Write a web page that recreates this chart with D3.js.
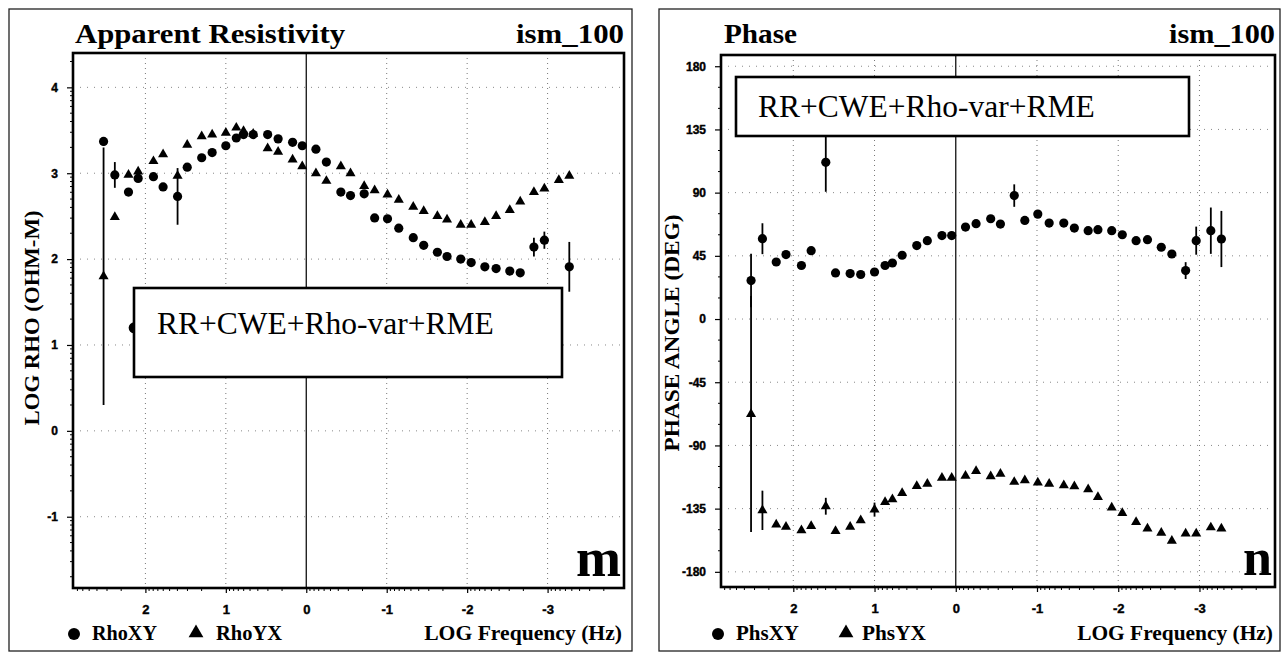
<!DOCTYPE html>
<html>
<head>
<meta charset="utf-8">
<script src="https://cdn.jsdelivr.net/npm/d3@7"></script>
<style>
  body { margin: 0; background: #fff; }
  svg { display: block; }
</style>
</head>
<body>
<div id="chart"></div>
<script>
// log10 frequency of each sounding (Hz), shared by both panels
var freq = [2.52, 2.38, 2.21, 2.09, 1.90, 1.78, 1.60, 1.48, 1.30, 1.17,
            1.00, 0.87, 0.78, 0.66, 0.48, 0.35, 0.17, 0.05, -0.12, -0.25,
            -0.43, -0.55, -0.72, -0.85, -1.01, -1.15, -1.33, -1.46, -1.63, -1.75,
            -1.92, -2.05, -2.22, -2.36, -2.53, -2.66, -2.83, -2.96, -3.14, -3.27];

// apparent resistivity, log10 ohm-m
var rhoXY = [3.37, 2.98, 2.78, 2.94, 2.96, 2.84, 2.73, 3.07, 3.18, 3.24,
             3.32, 3.41, 3.45, 3.45, 3.45, 3.40, 3.36, 3.32, 3.28, 3.13,
             2.78, 2.74, 2.76, 2.48, 2.47, 2.36, 2.25, 2.16, 2.08, 2.03,
             2.00, 1.96, 1.91, 1.89, 1.86, 1.84, 2.14, 2.22, null, 1.91];
var rhoXYErr = [0.05, 0.15, 0, 0, 0, 0, 0.33, 0, 0, 0,
                0, 0, 0, 0, 0, 0, 0, 0, 0, 0,
                0, 0, 0, 0, 0, 0, 0, 0, 0, 0,
                0, 0, 0, 0, 0, 0, 0.11, 0.10, 0, 0.29];
var rhoYX = [1.80, 2.49, 2.98, 3.02, 3.14, 3.22, 2.97, 3.33, 3.43, 3.45,
             3.47, 3.53, 3.49, 3.46, 3.29, 3.25, 3.16, 3.08, 3.00, 2.91,
             3.08, 3.00, 2.85, 2.80, 2.75, 2.69, 2.61, 2.56, 2.50, 2.46,
             2.40, 2.40, 2.43, 2.50, 2.57, 2.67, 2.78, 2.82, 2.92, 2.97];
var rhoYXErr = [1.5, 0, 0, 0, 0, 0, 0, 0, 0, 0,
                0, 0, 0, 0, 0, 0, 0, 0, 0, 0,
                0, 0, 0, 0, 0, 0, 0, 0, 0, 0,
                0, 0, 0, 0, 0, 0, 0, 0, 0, 0];
// one stray RhoXY estimate half hidden behind the label box
var rhoXYStrayFreq = [2.14];
var rhoXYStray = [1.2];

// phase, degrees
var phsXY = [27.4, 57.2, 40.6, 45.9, 38.1, 48.7, 111.6, 32.8, 32.4, 31.7,
             33.5, 38.1, 39.9, 45.4, 52.3, 55.8, 59.4, 59.4, 65.5, 67.9,
             71.4, 67.6, 87.9, 70.2, 74.7, 68.3, 68.3, 64.8, 62.9, 63.6,
             62.9, 60.0, 55.8, 56.5, 51.1, 46.3, 34.5, 55.8, 62.9, 57.0];
var phsXYErr = [19, 11, 0, 0, 0, 0, 21, 0, 0, 0,
                0, 0, 0, 0, 0, 0, 0, 0, 0, 0,
                0, 0, 8, 0, 0, 0, 0, 0, 0, 0,
                0, 0, 0, 0, 0, 0, 6, 10, 16.5, 20];
var phsYX = [-67.6, -136.2, -146.3, -148.0, -150.4, -147.5, -133.3, -151.0, -148.0, -143.3,
             -135.7, -130.3, -128.4, -123.9, -118.9, -117.3, -113.0, -113.0, -111.6, -108.3,
             -112.0, -110.2, -116.0, -114.9, -116.5, -117.3, -118.4, -119.1, -121.3, -126.7,
             -134.3, -138.1, -144.5, -149.2, -152.3, -157.9, -152.7, -152.7, -148.4, -149.2];
var phsYXErr = [84, 14, 0, 0, 0, 0, 6, 0, 0, 0,
                5, 0, 0, 0, 0, 0, 0, 0, 0, 0,
                0, 0, 0, 0, 0, 0, 0, 0, 0, 0,
                0, 0, 0, 0, 0, 0, 0, 0, 0, 0];

var freqTicks = [2, 1, 0, -1, -2, -3];
var rhoTicks = [-1, 0, 1, 2, 3, 4];
var phsTicks = [-180, -135, -90, -45, 0, 45, 90, 135, 180];
var boxLabel = "RR+CWE+Rho-var+RME";
var siteName = "ism_100";
var xTitle = "LOG Frequency (Hz)";

function pts(f, v, e) {
  var out = [];
  for (var i = 0; i < f.length; i++) {
    if (v[i] == null) continue;
    out.push({ f: f[i], v: v[i], e: e ? e[i] : 0 });
  }
  return out;
}

var logMinor = [];
for (var d = -5; d <= 4; d++) {
  for (var k = 2; k <= 9; k++) logMinor.push(d + Math.log10(k));
}
var phsMinor = d3.range(-180, 181, 15).filter(function (v) { return v % 45 !== 0; });

var panels = [
  {
    border: [9, 9, 632, 651],
    frame: [73, 53, 624, 588],
    xDomain: [2.9, -3.95],
    yDomain: [-1.83, 4.40],
    yTicks: rhoTicks,
    yMinor: logMinor,
    title: "Apparent Resistivity", titleX: 75, titleW: 270,
    siteW: 108,
    yLabel: "LOG RHO (OHM-M)", yLabelX: 32, yLabelY: 318, yLabelW: 215,
    box: [134, 288, 562, 377], boxTextX: 157, boxTextY: 334,
    letter: "m", letterSize: 54,
    series: [
      { data: pts(freq, rhoXY, rhoXYErr), shape: "circle", name: "RhoXY" },
      { data: pts(freq, rhoYX, rhoYXErr), shape: "triangle", name: "RhoYX" }
    ],
    stray: pts(rhoXYStrayFreq, rhoXYStray),
    legend: [74, 92, 196, 216], legendW: [65, 66], xTitleW: 198
  },
  {
    border: [659, 9, 1280, 651],
    frame: [721, 55, 1275, 587],
    xDomain: [2.89, -3.93],
    yDomain: [-190.8, 188],
    yTicks: phsTicks,
    yMinor: phsMinor,
    title: "Phase", titleX: 724, titleW: 73,
    siteW: 106,
    yLabel: "PHASE ANGLE (DEG)", yLabelX: 672, yLabelY: 333, yLabelW: 237,
    box: [736, 77, 1189, 136], boxTextX: 758, boxTextY: 117,
    letter: "n", letterSize: 52,
    series: [
      { data: pts(freq, phsXY, phsXYErr), shape: "circle", name: "PhsXY" },
      { data: pts(freq, phsYX, phsYXErr), shape: "triangle", name: "PhsYX" }
    ],
    stray: [],
    legend: [718, 736, 846, 862], legendW: [63, 64], xTitleW: 196
  }
];

var svg = d3.select("#chart").append("svg")
  .attr("width", 1285)
  .attr("height", 654);

function fitText(t, width) {
  var w = t.node().getComputedTextLength();
  var fs = parseFloat(t.attr("font-size"));
  if (w > 0) t.attr("font-size", fs * width / w);
  return t;
}

var tri = d3.symbol().type(d3.symbolTriangle).size(44);
var triBig = d3.symbol().type(d3.symbolTriangle).size(95);
var serif = "'Liberation Serif', 'Times New Roman', serif";
var sans = "'Liberation Sans', Arial, sans-serif";

panels.forEach(function (p) {
  var x0 = p.frame[0], y0 = p.frame[1], x1 = p.frame[2], y1 = p.frame[3];
  var xScale = d3.scaleLinear().domain(p.xDomain).range([x0, x1]);
  var yScale = d3.scaleLinear().domain(p.yDomain).range([y1, y0]);
  var g = svg.append("g");

  // outer panel border
  g.append("rect")
    .attr("x", p.border[0]).attr("y", p.border[1])
    .attr("width", p.border[2] - p.border[0])
    .attr("height", p.border[3] - p.border[1])
    .attr("fill", "none").attr("stroke", "#222").attr("stroke-width", 1.3);

  // grid
  g.selectAll(".vgrid").data(freqTicks).enter().append("line")
    .attr("x1", function (d) { return xScale(d); })
    .attr("x2", function (d) { return xScale(d); })
    .attr("y1", y0).attr("y2", y1)
    .attr("stroke", function (d) { return d === 0 ? "#111" : "#777"; })
    .attr("stroke-width", function (d) { return d === 0 ? 1.3 : 1; })
    .attr("stroke-dasharray", function (d) { return d === 0 ? null : "1,4"; });
  g.selectAll(".hgrid").data(p.yTicks).enter().append("line")
    .attr("x1", x0).attr("x2", x1)
    .attr("y1", function (d) { return yScale(d); })
    .attr("y2", function (d) { return yScale(d); })
    .attr("stroke", "#888").attr("stroke-width", 1)
    .attr("stroke-dasharray", "1,6");

  // axes
  var yAxis = d3.axisLeft(yScale).tickValues(p.yTicks)
    .tickSize(6).tickPadding(9)
    .tickFormat(function (d) { return String(d); });
  var ya = g.append("g").attr("transform", "translate(" + x0 + ",0)").call(yAxis);
  ya.select(".domain").remove();
  ya.selectAll("text").attr("font-family", sans)
    .attr("font-weight", "bold").attr("font-size", 12).attr("fill", "#000")
    .attr("stroke", "#000").attr("stroke-width", 0.4);
  ya.selectAll("line").attr("stroke", "#000").attr("stroke-width", 1.2);

  var xAxis = d3.axisBottom(xScale).tickValues(freqTicks)
    .tickSize(5).tickPadding(12)
    .tickFormat(function (d) { return String(d); });
  var xa = g.append("g").attr("transform", "translate(0," + y1 + ")").call(xAxis);
  xa.select(".domain").remove();
  xa.selectAll("text").attr("font-family", sans)
    .attr("font-weight", "bold").attr("font-size", 13).attr("fill", "#000")
    .attr("stroke", "#000").attr("stroke-width", 0.4);
  xa.selectAll("line").attr("stroke", "#000").attr("stroke-width", 1.2);

  // minor ticks
  var xMinor = logMinor.filter(function (v) { return v < p.xDomain[0] && v > p.xDomain[1]; });
  g.selectAll(".xminor").data(xMinor).enter().append("line")
    .attr("x1", function (d) { return xScale(d); })
    .attr("x2", function (d) { return xScale(d); })
    .attr("y1", y1).attr("y2", y1 + 3)
    .attr("stroke", "#000").attr("stroke-width", 1);
  var yMinor = p.yMinor.filter(function (v) { return v > p.yDomain[0] && v < p.yDomain[1]; });
  g.selectAll(".yminor").data(yMinor).enter().append("line")
    .attr("x1", x0 - 3).attr("x2", x0)
    .attr("y1", function (d) { return yScale(d); })
    .attr("y2", function (d) { return yScale(d); })
    .attr("stroke", "#000").attr("stroke-width", 1);

  // stray point goes under the label box
  g.selectAll(".stray").data(p.stray).enter().append("circle")
    .attr("cx", function (d) { return xScale(d.f); })
    .attr("cy", function (d) { return yScale(d.v); })
    .attr("r", 5.5).attr("fill", "#000");

  // data: error bars then markers
  p.series.forEach(function (s) {
    var withErr = s.data.filter(function (d) { return d.e > 0; });
    g.selectAll(null).data(withErr).enter().append("line")
      .attr("x1", function (d) { return xScale(d.f); })
      .attr("x2", function (d) { return xScale(d.f); })
      .attr("y1", function (d) { return yScale(d.v - d.e); })
      .attr("y2", function (d) { return yScale(d.v + d.e); })
      .attr("stroke", "#000").attr("stroke-width", 1.8);
    if (s.shape === "circle") {
      g.selectAll(null).data(s.data).enter().append("circle")
        .attr("cx", function (d) { return xScale(d.f); })
        .attr("cy", function (d) { return yScale(d.v); })
        .attr("r", 4.6).attr("fill", "#000");
    } else {
      g.selectAll(null).data(s.data).enter().append("path")
        .attr("d", tri)
        .attr("transform", function (d) {
          return "translate(" + xScale(d.f) + "," + yScale(d.v) + ")";
        })
        .attr("fill", "#000");
    }
  });

  // plot frame
  g.append("rect")
    .attr("x", x0).attr("y", y0)
    .attr("width", x1 - x0).attr("height", y1 - y0)
    .attr("fill", "none").attr("stroke", "#000").attr("stroke-width", 2.6);

  // label box
  g.append("rect")
    .attr("x", p.box[0]).attr("y", p.box[1])
    .attr("width", p.box[2] - p.box[0]).attr("height", p.box[3] - p.box[1])
    .attr("fill", "#fff").attr("stroke", "#000").attr("stroke-width", 2.6);
  var bt = g.append("text")
    .attr("x", p.boxTextX).attr("y", p.boxTextY)
    .attr("font-family", serif)
    .attr("font-size", 30).attr("fill", "#000")
    .text(boxLabel);
  fitText(bt, 337);

  // titles
  g.append("text")
    .attr("x", p.titleX).attr("y", 43)
    .attr("font-family", serif)
    .attr("font-weight", "bold").attr("font-size", 28)
    .attr("textLength", p.titleW).attr("lengthAdjust", "spacingAndGlyphs")
    .text(p.title);
  g.append("text")
    .attr("x", x1).attr("y", 43).attr("text-anchor", "end")
    .attr("font-family", serif)
    .attr("font-weight", "bold").attr("font-size", 28)
    .attr("textLength", p.siteW).attr("lengthAdjust", "spacingAndGlyphs")
    .text(siteName);

  // y axis title
  g.append("text")
    .attr("transform", "translate(" + p.yLabelX + "," + p.yLabelY + ") rotate(-90)")
    .attr("text-anchor", "middle").attr("dy", "0.35em")
    .attr("font-family", serif)
    .attr("font-weight", "bold").attr("font-size", 20)
    .attr("textLength", p.yLabelW).attr("lengthAdjust", "spacingAndGlyphs")
    .text(p.yLabel);

  // panel letter
  g.append("text")
    .attr("x", x1 - 3).attr("y", y1 - 12).attr("text-anchor", "end")
    .attr("font-family", serif)
    .attr("font-weight", "bold").attr("font-size", p.letterSize)
    .text(p.letter);

  // legend
  var ly = 634;
  g.append("circle").attr("cx", p.legend[0]).attr("cy", ly).attr("r", 6).attr("fill", "#000");
  var l1 = g.append("text").attr("x", p.legend[1]).attr("y", ly + 6)
    .attr("font-family", serif)
    .attr("font-weight", "bold").attr("font-size", 16)
    .text(p.series[0].name);
  fitText(l1, p.legendW[0]);
  g.append("path").attr("d", triBig)
    .attr("transform", "translate(" + p.legend[2] + "," + (ly - 1) + ")")
    .attr("fill", "#000");
  var l2 = g.append("text").attr("x", p.legend[3]).attr("y", ly + 6)
    .attr("font-family", serif)
    .attr("font-weight", "bold").attr("font-size", 16)
    .text(p.series[1].name);
  fitText(l2, p.legendW[1]);
  var xt = g.append("text").attr("x", x1 - 2).attr("y", ly + 6)
    .attr("text-anchor", "end")
    .attr("font-family", serif)
    .attr("font-weight", "bold").attr("font-size", 16)
    .text(xTitle);
  fitText(xt, p.xTitleW);
});
</script>
</body>
</html>
